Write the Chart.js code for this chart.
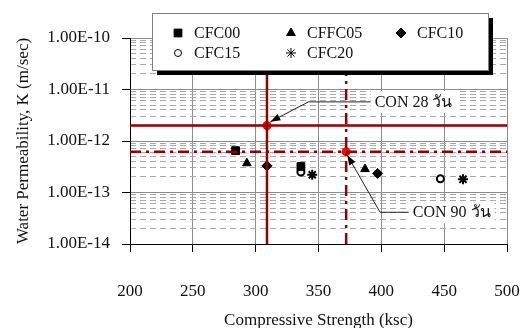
<!DOCTYPE html>
<html>
<head>
<meta charset="utf-8">
<script src="https://cdn.jsdelivr.net/npm/chart.js@4.4.0/dist/chart.umd.min.js"></script>
<style>
html, body { margin: 0; padding: 0; background: #fff; }
</style>
</head>
<body>
<canvas id="graph" width="525" height="328"></canvas>
<script>
// data
var series = ["CFC00", "CFFC05", "CFC10", "CFC15", "CFC20"];
var strength = [[284, 336], [293, 387], [309, 397], [336, 447], [345, 465]];
var permeability = [[6.5e-13, 3.2e-13], [3.7e-13, 2.85e-13], [3.3e-13, 2.35e-13], [2.5e-13, 1.85e-13], [2.2e-13, 1.8e-13]];
var xTicks = [200, 250, 300, 350, 400, 450, 500];
var yTicks = [1e-14, 1e-13, 1e-12, 1e-11, 1e-10];
var conLabels = ["CON 28 วัน", "CON 90 วัน"];
var conStrength = [309, 372];
var conPermeability = [2e-12, 6.2e-13];

var FONT = "'Liberation Serif', 'Times New Roman', serif";
var RED = "#900000";
var pointStyles = ["rect", "triangle", "rectRot", "circle", "star"];
var pointSizes = [5.5, 5, 5, 3.5, 5];

var minorTicks = [];
for (let e = -14; e < -10; e++) {
  for (let m = 2; m < 10; m++) minorTicks.push(m * Math.pow(10, e));
}

var datasets = [];

// reference lines for CON 28 (solid) and CON 90 (dash-dot)
for (let i = 0; i < 2; i++) {
  let dash = i == 0 ? [] : [11, 5, 3, 5];
  datasets.push({
    data: [{ x: xTicks[0], y: conPermeability[i] }, { x: xTicks[xTicks.length - 1], y: conPermeability[i] }],
    showLine: true, borderColor: RED, borderWidth: 2.5, borderDash: dash, pointRadius: 0
  });
  datasets.push({
    data: [{ x: conStrength[i], y: yTicks[0] }, { x: conStrength[i], y: yTicks[yTicks.length - 1] }],
    showLine: true, borderColor: RED, borderWidth: 2.5, borderDash: dash, pointRadius: 0
  });
}
datasets.push({
  data: conStrength.map((v, i) => ({ x: v, y: conPermeability[i] })),
  pointRadius: 4.5, pointBackgroundColor: "#ff0000", pointBorderWidth: 0, pointStyle: "circle"
});

for (let i = 0; i < series.length; i++) {
  datasets.push({
    label: series[i],
    inLegend: true,
    data: strength[i].map((v, j) => ({ x: v, y: permeability[i][j] })),
    pointStyle: pointStyles[i],
    pointRadius: pointSizes[i],
    pointBackgroundColor: i == 3 ? "#fff" : "#000",
    pointBorderColor: "#000",
    pointBorderWidth: i == 3 ? 2 : (i == 4 ? 2 : 1)
  });
}

var legendBox = {
  id: "legendBox",
  afterDraw: function (chart) {
    var ctx = chart.ctx;
    var x0 = 152, y0 = 13, w = 336, h = 57;
    ctx.save();
    ctx.fillStyle = "#000";
    ctx.fillRect(x0 + 5, y0 + 5, w, h);
    ctx.fillStyle = "#fff";
    ctx.fillRect(x0, y0, w, h);
    ctx.strokeStyle = "#808080";
    ctx.lineWidth = 1;
    ctx.strokeRect(x0 + 0.5, y0 + 0.5, w, h);
    var cols = [178, 291, 401], rows = [33, 53];
    var k = 0;
    chart.data.datasets.forEach(function (ds) {
      if (!ds.inLegend) return;
      var cx = cols[k % 3], cy = rows[Math.floor(k / 3)];
      ctx.fillStyle = ds.pointBackgroundColor;
      ctx.strokeStyle = "#000";
      Chart.helpers.drawPoint(ctx, {
        pointStyle: ds.pointStyle, radius: ds.pointRadius, borderWidth: ds.pointBorderWidth, rotation: 0
      }, cx, cy);
      ctx.fillStyle = "#111";
      ctx.font = "16px " + FONT;
      ctx.textBaseline = "middle";
      ctx.textAlign = "left";
      ctx.fillText(ds.label, cx + 16, cy + 1);
      k++;
    });
    ctx.restore();
  }
};

// callouts: tip point, elbow (x, label y), label left edge
var callouts = [
  { tip: [311.7, 2.36e-12], elbow: [342, 5.75e-12], label: 391.5 },
  { tip: [372.9, 5.33e-13], elbow: [399, 4.13e-14], label: 421.8 }
];

var calloutPlugin = {
  id: "callouts",
  afterDatasetsDraw: function (chart) {
    var ctx = chart.ctx, xs = chart.scales.x, ys = chart.scales.y;
    ctx.save();
    ctx.font = "16px " + FONT;
    callouts.forEach(function (c, i) {
      var tx = xs.getPixelForValue(c.tip[0]), ty = ys.getPixelForValue(c.tip[1]);
      var ex = xs.getPixelForValue(c.elbow[0]), ey = ys.getPixelForValue(c.elbow[1]);
      var lx = xs.getPixelForValue(c.label);
      var tw = ctx.measureText(conLabels[i]).width;
      ctx.fillStyle = "#fff";
      ctx.fillRect(lx, ey - 11, tw + 8, 22);
      ctx.fillStyle = "#111";
      ctx.textBaseline = "middle";
      ctx.fillText(conLabels[i], lx + 4, ey + 1);
      ctx.strokeStyle = "#222";
      ctx.lineWidth = 1;
      ctx.beginPath();
      ctx.moveTo(lx, ey);
      ctx.lineTo(ex, ey);
      ctx.lineTo(tx, ty);
      ctx.stroke();
      var a = Math.atan2(ty - ey, tx - ex);
      ctx.fillStyle = "#000";
      ctx.beginPath();
      ctx.moveTo(tx, ty);
      ctx.lineTo(tx - 10 * Math.cos(a) + 3.5 * Math.sin(a), ty - 10 * Math.sin(a) - 3.5 * Math.cos(a));
      ctx.lineTo(tx - 10 * Math.cos(a) - 3.5 * Math.sin(a), ty - 10 * Math.sin(a) + 3.5 * Math.cos(a));
      ctx.closePath();
      ctx.fill();
    });
    ctx.restore();
  }
};

var ctx = document.getElementById("graph").getContext("2d");

var config = {
  type: "scatter",
  data: { datasets: datasets },
  options: {
    responsive: false,
    animation: false,
    layout: { padding: { top: 38, right: 18, left: 0, bottom: 0 } },
    plugins: { legend: { display: false }, tooltip: { enabled: false } },
    scales: {
      x: {
        type: "linear",
        min: 200, max: 500,
        afterBuildTicks: function (s) { s.ticks = xTicks.map(v => ({ value: v })); },
        afterFit: function (s) { s.height = 84; s.paddingLeft = 14; s.paddingRight = 14; },
        grid: { color: "#8c8c8c", tickColor: "#000", tickLength: 8 },
        border: { color: "#000", width: 1 },
        ticks: { color: "#111", padding: 29, maxRotation: 0, font: { family: FONT, size: 17 } },
        title: { display: true, text: "Compressive Strength (ksc)", color: "#111", padding: { top: 0, bottom: -3 }, font: { family: FONT, size: 17 } }
      },
      y: {
        type: "logarithmic",
        min: 1e-14, max: 1e-10,
        afterBuildTicks: function (s) { s.ticks = yTicks.map(v => ({ value: v })); },
        afterFit: function (s) { s.width = 130; },
        grid: { color: "#8c8c8c", tickColor: "#000", tickLength: 8 },
        border: { color: "#000", width: 1 },
        ticks: {
          color: "#111", padding: 12, font: { family: FONT, size: 17 },
          callback: function (v) { return v.toExponential(2).toUpperCase(); }
        },
        title: { display: true, text: "Water Permeability, K (m/sec)", color: "#111", padding: { top: 13, bottom: 0 }, font: { family: FONT, size: 17 } }
      },
      y2: {
        type: "logarithmic",
        position: "left",
        min: 1e-14, max: 1e-10,
        afterBuildTicks: function (s) { s.ticks = minorTicks.map(v => ({ value: v })); },
        afterFit: function (s) { s.width = 0; },
        grid: { color: "#a8a8a8", drawTicks: false },
        border: { display: false, dash: [6, 4] },
        ticks: { display: false }
      }
    }
  },
  plugins: [calloutPlugin, legendBox]
};

var graph = new Chart(ctx, config);
</script>
</body>
</html>
